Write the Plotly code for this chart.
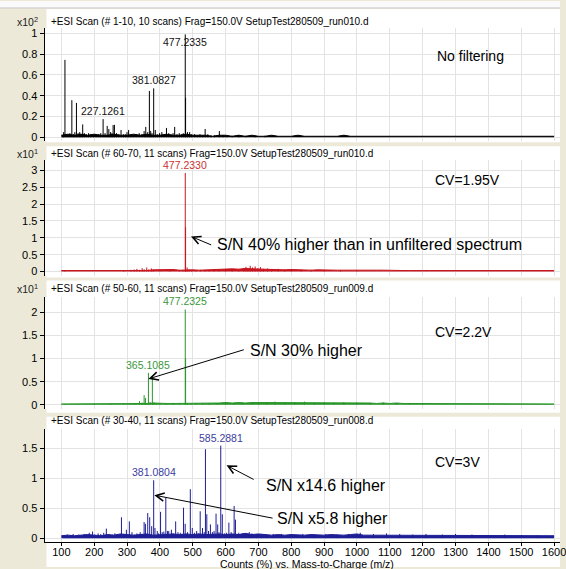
import plotly.graph_objects as go

W, H = 566, 569
FONT = "Liberation Sans, Arial, sans-serif"

# ---- data -------------------------------------------------------------
# m/z grid for the low-level baseline noise
noise_mz = list(range(100, 1601, 20))

noise_p1 = [0.02, 0.03, 0.02, 0.03, 0.02, 0.03, 0.02, 0.02, 0.03, 0.02,
            0.02, 0.03, 0.02, 0.03, 0.02, 0.02, 0.03, 0.02, 0.02, 0.03,
            0.02, 0.02, 0.02, 0.01, 0.02, 0.02, 0.01, 0.02, 0.01, 0.02,
            0.01, 0.01, 0.02, 0.01, 0.01, 0.01, 0.02, 0.01, 0.01, 0.01,
            0.01, 0.01, 0.01, 0.02, 0.01, 0.01, 0.01, 0.01, 0.01, 0.01,
            0.01, 0.01, 0.01, 0.01, 0.01, 0.01, 0.01, 0.01, 0.01, 0.01,
            0.01, 0.01, 0.01, 0.01, 0.01, 0.01, 0.01, 0.01, 0.01, 0.01,
            0.01, 0.01, 0.01, 0.01, 0.01, 0.01]

noise_p2 = [0.03, 0.03, 0.03, 0.02, 0.03, 0.03, 0.02, 0.03, 0.03, 0.03,
            0.03, 0.03, 0.04, 0.03, 0.05, 0.06, 0.05, 0.06, 0.04, 0.05,
            0.05, 0.04, 0.05, 0.06, 0.05, 0.06, 0.08, 0.07, 0.09, 0.08,
            0.07, 0.06, 0.07, 0.06, 0.05, 0.06, 0.05, 0.05, 0.04, 0.05,
            0.04, 0.05, 0.04, 0.04, 0.05, 0.04, 0.04, 0.03, 0.04, 0.04,
            0.03, 0.04, 0.03, 0.03, 0.04, 0.03, 0.03, 0.03, 0.03, 0.03,
            0.03, 0.03, 0.03, 0.03, 0.03, 0.03, 0.03, 0.03, 0.03, 0.03,
            0.03, 0.03, 0.03, 0.03, 0.03, 0.03]

noise_p3 = [0.02, 0.02, 0.02, 0.02, 0.02, 0.02, 0.02, 0.03, 0.02, 0.02,
            0.02, 0.03, 0.03, 0.03, 0.04, 0.03, 0.03, 0.03, 0.03, 0.04,
            0.03, 0.04, 0.04, 0.03, 0.04, 0.05, 0.04, 0.05, 0.04, 0.05,
            0.05, 0.04, 0.05, 0.05, 0.04, 0.05, 0.05, 0.04, 0.05, 0.05,
            0.04, 0.05, 0.05, 0.04, 0.04, 0.05, 0.04, 0.04, 0.03, 0.04,
            0.03, 0.04, 0.03, 0.03, 0.03, 0.03, 0.03, 0.03, 0.02, 0.03,
            0.02, 0.03, 0.02, 0.02, 0.03, 0.02, 0.02, 0.02, 0.02, 0.02,
            0.02, 0.02, 0.02, 0.02, 0.02, 0.02]

noise_p4 = [0.04, 0.05, 0.04, 0.05, 0.06, 0.05, 0.04, 0.06, 0.05, 0.07,
            0.06, 0.05, 0.06, 0.07, 0.05, 0.06, 0.06, 0.07, 0.06, 0.07,
            0.06, 0.07, 0.06, 0.07, 0.07, 0.06, 0.07, 0.06, 0.08, 0.06,
            0.07, 0.06, 0.05, 0.06, 0.05, 0.06, 0.05, 0.05, 0.06, 0.05,
            0.05, 0.06, 0.05, 0.05, 0.06, 0.07, 0.05, 0.05, 0.04, 0.05,
            0.05, 0.04, 0.05, 0.05, 0.04, 0.05, 0.04, 0.05, 0.04, 0.04,
            0.05, 0.04, 0.04, 0.05, 0.04, 0.04, 0.05, 0.04, 0.04, 0.04,
            0.04, 0.04, 0.04, 0.04, 0.04, 0.04]

# centroid peaks: (m/z, intensity in the panel's scaled units)
peaks_p1 = [
    (104, 0.02), (107, 0.05), (111, 0.745), (116, 0.03), (121, 0.02), (126, 0.04),
    (132, 0.357), (137, 0.03), (141, 0.05), (146, 0.331), (151, 0.04), (156, 0.05),
    (160, 0.03), (165, 0.124), (170, 0.04), (176, 0.03), (183, 0.04), (190, 0.03),
    (198, 0.02), (206, 0.03), (214, 0.03), (220, 0.04), (227.1261, 0.175), (233, 0.04),
    (239.6, 0.11), (244.6, 0.08), (250, 0.05), (254, 0.04), (257.6, 0.118), (261.6, 0.12),
    (268, 0.04), (275, 0.03), (281.7, 0.07), (289, 0.03), (295, 0.03), (299.8, 0.05),
    (304.8, 0.07), (312, 0.03), (320, 0.02), (328, 0.03), (337, 0.04), (345, 0.03),
    (352, 0.06), (357, 0.1), (363, 0.05), (368, 0.446), (372, 0.06), (376, 0.04),
    (381.0827, 0.471), (386, 0.07), (392, 0.03), (399, 0.04), (406, 0.05), (413, 0.03),
    (420, 0.09), (427, 0.04), (434, 0.03), (440, 0.04), (445, 0.1), (452, 0.03),
    (459, 0.04), (466, 0.03), (471, 0.04), (477.2335, 0.99), (478.24, 0.38), (484, 0.05),
    (490.6, 0.05), (497, 0.03), (505.6, 0.03), (514, 0.02), (522, 0.03), (530, 0.02),
    (537.8, 0.08), (546, 0.03), (556, 0.02), (566, 0.02), (581, 0.06), (592, 0.02),
    (605, 0.02), (620, 0.015), (640, 0.02), (662, 0.015), (690, 0.015), (720, 0.015),
]

peaks_p2 = [
    (111, 0.04), (290, 0.03), (312, 0.05), (322, 0.06), (330, 0.08), (338, 0.05),
    (346, 0.1), (352, 0.07), (360, 0.12), (366, 0.06), (374, 0.09), (380, 0.05),
    (400, 0.03), (430, 0.03), (460, 0.04), (470, 0.04), (477.2330, 2.92), (478.24, 1.31),
    (483, 0.12), (489, 0.06), (497, 0.05), (510, 0.04), (523, 0.05), (537, 0.04),
    (550, 0.05), (565, 0.04), (580, 0.05), (600, 0.04), (620, 0.05), (640, 0.06),
    (655, 0.09), (662, 0.14), (668, 0.1), (675, 0.17), (682, 0.12), (690, 0.15),
    (698, 0.1), (706, 0.13), (715, 0.08), (728, 0.09), (740, 0.07), (760, 0.08),
    (780, 0.06), (800, 0.07), (830, 0.05), (860, 0.05), (900, 0.04), (950, 0.04),
    (1000, 0.03),
]

peaks_p3 = [
    (111, 0.02), (150, 0.01), (200, 0.02), (250, 0.02), (290, 0.02), (310, 0.03),
    (320, 0.02), (327, 0.04), (338, 0.08), (346, 0.05), (352, 0.21), (356, 0.15),
    (360, 0.04), (365.1085, 0.69), (370, 0.06), (377.1, 0.58), (382, 0.05), (390, 0.03),
    (400, 0.02), (420, 0.03), (440, 0.02), (460, 0.03), (477.2325, 2.06), (478.24, 1.0),
    (484, 0.04), (495, 0.03), (510, 0.03), (530, 0.04), (550, 0.03), (575, 0.04),
    (600, 0.05), (625, 0.04), (650, 0.05), (680, 0.06), (700, 0.05), (725, 0.06),
    (750, 0.07), (780, 0.05), (810, 0.06), (840, 0.07), (870, 0.05), (900, 0.06),
    (930, 0.05), (960, 0.06), (1000, 0.05), (1040, 0.04), (1080, 0.05), (1120, 0.04),
    (1160, 0.04), (1200, 0.03),
]

peaks_p4 = [
    (110, 0.05), (118, 0.06), (127, 0.05), (136, 0.07), (145, 0.05), (153, 0.06),
    (162, 0.05), (170, 0.07), (178, 0.06), (185, 0.09), (195, 0.11), (202, 0.06),
    (212, 0.08), (220, 0.07), (229, 0.09), (237, 0.16), (245, 0.07), (255, 0.06),
    (263, 0.08), (271, 0.06), (283, 0.35), (290, 0.07), (298, 0.14), (307, 0.28),
    (315, 0.1), (322, 0.06), (330, 0.08), (340, 0.1), (345, 0.07), (352, 0.27),
    (356, 0.24), (363, 0.42), (369, 0.35), (375, 0.2), (381.0804, 0.97), (385, 0.17),
    (392, 0.12), (396, 0.08), (402, 0.44), (407, 0.1), (412, 0.11), (418, 0.68),
    (423, 0.12), (427, 0.12), (435, 0.14), (440, 0.08), (448, 0.28), (455, 0.1),
    (462, 0.09), (466, 0.07), (472, 0.51), (477, 0.24), (484, 0.1), (492.6, 0.82),
    (498.6, 0.17), (505, 0.09), (512, 0.12), (517, 0.08), (522.7, 0.45), (529.7, 0.17),
    (535, 0.1), (538.7, 1.49), (542.8, 0.4), (548, 0.12), (553.8, 0.23), (560, 0.1),
    (565, 0.12), (570.9, 0.41), (575.9, 0.23), (580, 0.1), (585.2881, 1.55), (590, 0.4),
    (597, 0.08), (603, 0.09), (610, 0.26), (617, 0.1), (626, 0.54), (630, 0.31),
    (635, 0.07), (640, 0.09), (650, 0.08), (660, 0.07), (672, 0.1), (680, 0.08),
    (695, 0.06), (710, 0.07), (725, 0.06), (745, 0.07), (770, 0.07), (800, 0.06),
    (835, 0.07), (870, 0.06), (905, 0.07), (940, 0.06), (975, 0.07), (1010, 0.09),
    (1050, 0.07), (1090, 0.08), (1130, 0.07), (1170, 0.06), (1210, 0.07), (1260, 0.06),
    (1300, 0.07), (1350, 0.06), (1400, 0.05), (1450, 0.06), (1500, 0.05), (1550, 0.05),
]

# labelled peaks (m/z) per panel
labels_p1 = [227.1261, 381.0827, 477.2335]
labels_p2 = [477.2330]
labels_p3 = [365.1085, 477.2325]
labels_p4 = [381.0804, 585.2881]

titles = [
    "+ESI Scan (# 1-10, 10 scans) Frag=150.0V SetupTest280509_run010.d",
    "+ESI Scan (# 60-70, 11 scans) Frag=150.0V SetupTest280509_run010.d",
    "+ESI Scan (# 50-60, 11 scans) Frag=150.0V SetupTest280509_run009.d",
    "+ESI Scan (# 30-40, 11 scans) Frag=150.0V SetupTest280509_run008.d",
]
exponents = ["2", "1", "1", ""]
x_title = "Counts (%) vs. Mass-to-Charge (m/z)"

# ---- styling / layout -------------------------------------------------
BEIGE = "#ECE9D8"
GRID = "#E3E3E3"

panels = [
    dict(peaks=peaks_p1, noise=noise_p1, labels=labels_p1, color="#000000",
         lcolor="#111111", top=27, bot=141, yrange=[-0.038, 1.053], dtick=0.2,
         title_y=21, white=(8, 142)),
    dict(peaks=peaks_p2, noise=noise_p2, labels=labels_p2, color="#C8141E",
         lcolor="#C83232", top=160, bot=276, yrange=[-0.119, 3.30], dtick=0.5,
         title_y=153, white=(146, 278)),
    dict(peaks=peaks_p3, noise=noise_p3, labels=labels_p3, color="#2A962A",
         lcolor="#3C963C", top=298, bot=410, yrange=[-0.086, 2.32], dtick=0.5,
         title_y=289, white=(281, 414)),
    dict(peaks=peaks_p4, noise=noise_p4, labels=labels_p4, color="#1E1E96",
         lcolor="#3C3CA0", top=430, bot=544, yrange=[-0.067, 1.833], dtick=0.5,
         title_y=422, white=(418, 569)),
]

X_RANGE = [48.8, 1618]
X_DOMAIN = [45 / W, 1.0]


def py(p):
    return 1 - p / H


fig = go.Figure()
shapes = [
    dict(type="rect", xref="paper", yref="paper", x0=0, x1=1, y0=py(7), y1=1,
         fillcolor="#FAFAFA", line_width=0, layer="below"),
    dict(type="line", xref="paper", yref="paper", x0=0, x1=1, y0=py(7), y1=py(7),
         line=dict(color="#C8C8C8", width=1), layer="below"),
]
annotations = []
layout_axes = {}

for i, p in enumerate(panels, 1):
    xs, ys = [], []
    for mz, h in p["peaks"]:
        xs += [mz, mz, None]
        ys += [0, h, None]
    fig.add_trace(go.Scatter(
        x=noise_mz, y=p["noise"], mode="lines", fill="tozeroy",
        fillcolor=p["color"], line=dict(color=p["color"], width=1),
        xaxis=f"x{i}", yaxis=f"y{i}", hoverinfo="skip"))
    fig.add_trace(go.Scatter(
        x=xs, y=ys, mode="lines", line=dict(color=p["color"], width=1),
        xaxis=f"x{i}", yaxis=f"y{i}", hoverinfo="skip"))

    last = i == 4
    layout_axes[f"xaxis{i}"] = dict(
        domain=X_DOMAIN, range=X_RANGE, anchor=f"y{i}", tick0=100, dtick=100,
        showgrid=True, gridcolor=GRID, gridwidth=1, zeroline=False,
        showticklabels=last, ticks="outside" if last else "", ticklen=3,
        tickcolor="black", showline=last, linecolor="black", linewidth=1,
        ticklabeloverflow="allow", ticklabelstandoff=-3,
        tickfont=dict(family=FONT, size=11, color="black"), fixedrange=True)
    layout_axes[f"yaxis{i}"] = dict(
        domain=[py(p["bot"]), py(p["top"])], range=p["yrange"], anchor=f"x{i}",
        tick0=0, dtick=p["dtick"], showline=True, linecolor="black", linewidth=1,
        ticks="outside", ticklen=4, tickcolor="black", showgrid=True,
        gridcolor=GRID, gridwidth=1, zeroline=False,
        tickfont=dict(family=FONT, size=11, color="black"), fixedrange=True)

    w0, w1 = p["white"]
    shapes.append(dict(type="rect", xref="paper", yref="paper", x0=47 / W, x1=1,
                       y0=py(w1), y1=py(w0), fillcolor="white", line_width=0,
                       layer="below"))

    annotations.append(dict(
        text=titles[i - 1], xref="paper", yref="paper", x=50 / W, y=py(p["title_y"]),
        xanchor="left", yanchor="middle", showarrow=False,
        font=dict(family=FONT, size=10, color="black")))
    if exponents[i - 1]:
        annotations.append(dict(
            text=f"x10<sup>{exponents[i - 1]}</sup>", xref="paper", yref="paper",
            x=15 / W, y=py(p["title_y"]), xanchor="left", yanchor="middle",
            showarrow=False, font=dict(family=FONT, size=10.5, color="#222222")))

    heights = dict(p["peaks"])
    top_peak = max(h for _, h in p["peaks"])
    for mz in p["labels"]:
        h = heights[mz]
        inside = (i == 1 and h == top_peak)
        annotations.append(dict(
            text=f"{mz:.4f}", x=mz, y=h, xref=f"x{i}", yref=f"y{i}",
            xanchor="center", yanchor="top" if inside else "bottom",
            yshift=0, showarrow=False,
            font=dict(family=FONT, size=10.5, color=p["lcolor"])))

# commentary text
big = dict(family=FONT, size=16, color="black")
mid = dict(family=FONT, size=14, color="black")
notes = [
    ("No filtering", 440, 55, mid),
    ("CV=1.95V", 438, 180, mid),
    ("S/N 40% higher than in unfiltered spectrum", 217, 245, big),
    ("CV=2.2V", 438, 333, mid),
    ("S/N 30% higher", 251, 351, big),
    ("CV=3V", 438, 463, mid),
    ("S/N x14.6 higher", 267, 487, big),
    ("S/N x5.8 higher", 278, 520, big),
]
for txt, x, y, f in notes:
    annotations.append(dict(text=txt, xref="paper", yref="paper", x=x / W, y=py(y),
                            xanchor="left", yanchor="middle", showarrow=False, font=f))

# arrows: (panel, head m/z, head intensity, tail m/z, tail intensity)
arrows = [
    (2, 494.6, 1.04, 560.8, 0.77),
    (3, 365.0, 0.56, 660.0, 1.20),
    (4, 603.0, 1.22, 690.0, 0.97),
    (4, 383.0, 0.72, 747.6, 0.33),
]
for i, hx, hy, tx, ty in arrows:
    annotations.append(dict(
        text="", x=hx, y=hy, xref=f"x{i}", yref=f"y{i}", ax=tx, ay=ty,
        axref=f"x{i}", ayref=f"y{i}", showarrow=True, arrowhead=5,
        arrowsize=1.6, arrowwidth=1, arrowcolor="black"))

annotations.append(dict(text=x_title, xref="paper", yref="paper", x=310 / W, y=py(566),
                        xanchor="center", yanchor="middle", showarrow=False,
                        font=dict(family=FONT, size=10.5, color="black")))

fig.update_layout(
    width=W, height=H, margin=dict(l=0, r=0, t=0, b=0),
    paper_bgcolor=BEIGE, plot_bgcolor="white", showlegend=False,
    shapes=shapes, annotations=annotations, **layout_axes)

fig.write_html("out.html")
